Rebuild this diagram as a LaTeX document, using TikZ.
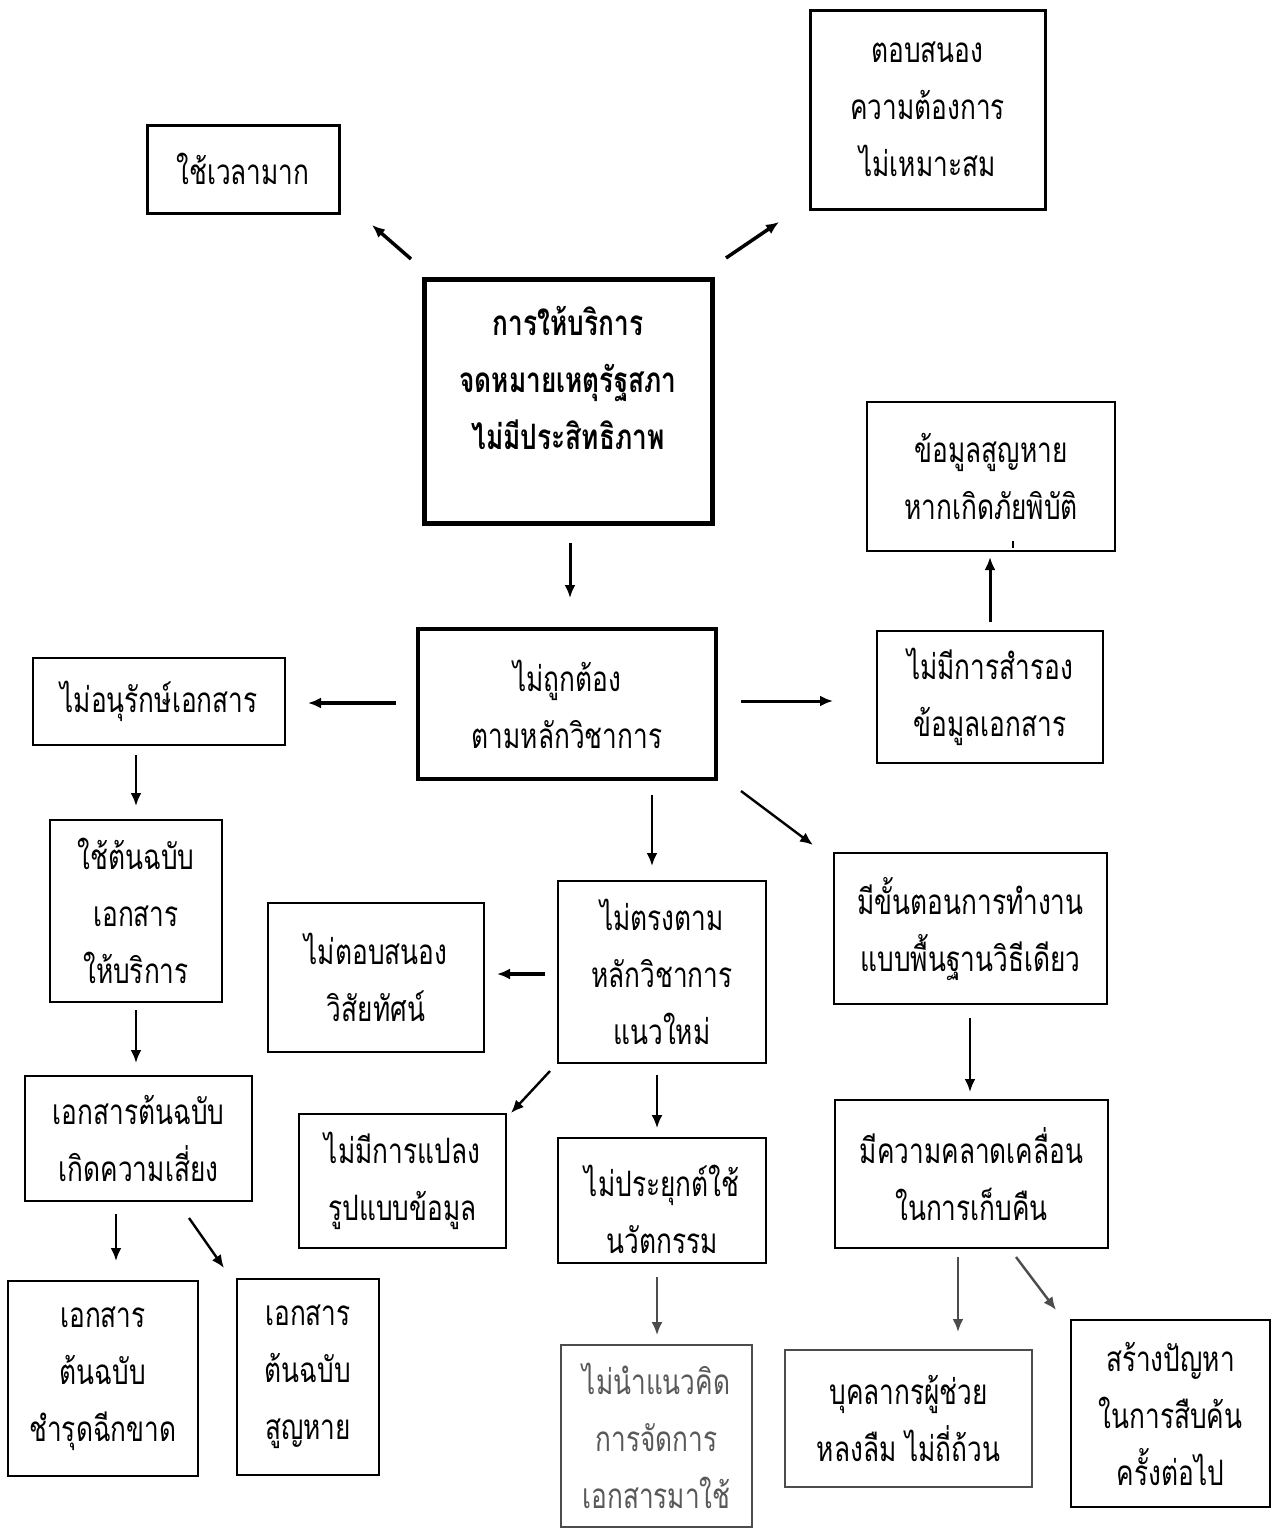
\documentclass[tikz,border=0pt]{standalone}
\usepackage{fontspec}
\newfontfamily\thai[Script=Thai,FakeStretch=0.75]{Loma}
\usetikzlibrary{arrows.meta}
\definecolor{fadetext}{gray}{0.35}
\definecolor{fadeline}{gray}{0.3}
\tikzset{
  box/.style={draw=black, line width=2.2pt, inner sep=0pt, align=center,
    font=\thai\fontsize{35}{57}\selectfont},
  arr/.style={line width=2.4pt, -{Latex[length=13pt,width=11pt]}},
  garr/.style={arr, draw=fadeline, color=fadeline},
}
\begin{document}
\begin{tikzpicture}[x=1pt,y=-1pt]
\useasboundingbox (0,0) rectangle (1273,1531);
\fill[white] (0,0) rectangle (1273,1531);

% boxes
\node[box, line width=3pt, minimum width=192pt, minimum height=88pt] (b1) at (243,169) {ใช้เวลามาก};
\node[box, line width=3pt, minimum width=235pt, minimum height=199pt] (b2) at (927.5,109.5) {ตอบสนอง\\ความต้องการ\\ไม่เหมาะสม};
\node[box, line width=5pt, minimum width=288pt, minimum height=244pt, text depth=46pt,
  font=\thai\bfseries\fontsize{35}{57}\selectfont] (c) at (568,401) {การให้บริการ\\จดหมายเหตุรัฐสภา\\ไม่มีประสิทธิภาพ};
\node[box, minimum width=248pt, minimum height=149pt] (b4) at (991,476.5) {ข้อมูลสูญหาย\\หากเกิดภัยพิบัติ};
\node[box, line width=4pt, minimum width=298pt, minimum height=150pt] (m) at (567,704) {ไม่ถูกต้อง\\ตามหลักวิชาการ};
\node[box, line width=2.5pt, minimum width=226pt, minimum height=132pt] (b6) at (990,697) {ไม่มีการสำรอง\\ข้อมูลเอกสาร};
\node[box, line width=2.5pt, minimum width=252pt, minimum height=87pt] (b7) at (159,701.5) {ไม่อนุรักษ์เอกสาร};
\node[box, minimum width=172pt, minimum height=182pt] (b8) at (136,911) {ใช้ต้นฉบับ\\เอกสาร\\ให้บริการ};
\node[box, line width=2.5pt, minimum width=216pt, minimum height=149pt] (b9) at (376,977.5) {ไม่ตอบสนอง\\วิสัยทัศน์};
\node[box, minimum width=208pt, minimum height=182pt] (b10) at (662,972) {ไม่ตรงตาม\\หลักวิชาการ\\แนวใหม่};
\node[box, line width=2.5pt, minimum width=273pt, minimum height=151pt] (b11) at (970.5,928.5) {มีขั้นตอนการทำงาน\\แบบพื้นฐานวิธีเดียว};
\node[box, line width=2.5pt, minimum width=227pt, minimum height=125pt] (b12) at (138.5,1138.5) {เอกสารต้นฉบับ\\เกิดความเสี่ยง};
\node[box, minimum width=207pt, minimum height=134pt] (b13) at (402.5,1181) {ไม่มีการแปลง\\รูปแบบข้อมูล};
\node[box, minimum width=208pt, minimum height=125pt] (b14) at (662,1200.5) {\rule{0pt}{50pt}ไม่ประยุกต์ใช้\\นวัตกรรม};
\node[box, line width=2.5pt, minimum width=273pt, minimum height=148pt] (b15) at (971.5,1174) {มีความคลาดเคลื่อน\\ในการเก็บคืน};
\node[box, line width=2.5pt, minimum width=190pt, minimum height=195pt] (b16) at (103,1378.5) {เอกสาร\\ต้นฉบับ\\ชำรุดฉีกขาด};
\node[box, line width=2.5pt, minimum width=142pt, minimum height=196pt] (b17) at (308,1377) {เอกสาร\\ต้นฉบับ\\สูญหาย};
\node[box, draw=fadeline, text=fadetext, minimum width=191pt, minimum height=182pt] (b18) at (656.5,1436) {ไม่นำแนวคิด\\การจัดการ\\เอกสารมาใช้};
\node[box, draw=fadeline, minimum width=247pt, minimum height=137pt] (b19) at (908.5,1418.5) {บุคลากรผู้ช่วย\\หลงลืม ไม่ถี่ถ้วน};
\node[box, minimum width=199pt, minimum height=187pt] (b20) at (1170.5,1413.5) {สร้างปัญหา\\ในการสืบค้น\\ครั้งต่อไป};
\fill (1012,541) rectangle (1014,548);

% arrow end points
\coordinate (a1s) at (411,259);  \coordinate (a1e) at (372,225);
\coordinate (a2s) at (726,258);  \coordinate (a2e) at (779,222);
\coordinate (a3s) at (570,543);  \coordinate (a3e) at (570,598);
\coordinate (a4s) at (396,703);  \coordinate (a4e) at (308,703);
\coordinate (a5s) at (741,701);  \coordinate (a5e) at (833,701);
\coordinate (a6s) at (990,622);  \coordinate (a6e) at (990,557);
\coordinate (a7s) at (652,795);  \coordinate (a7e) at (652,866);
\coordinate (a8s) at (741,791);  \coordinate (a8e) at (813,845);
\coordinate (a9s) at (136,755);  \coordinate (a9e) at (136,806);
\coordinate (a10s) at (136,1010); \coordinate (a10e) at (136,1063);
\coordinate (a11s) at (545,974);  \coordinate (a11e) at (497,974);
\coordinate (a12s) at (550,1071); \coordinate (a12e) at (511,1113);
\coordinate (a13s) at (657,1075); \coordinate (a13e) at (657,1128);
\coordinate (a14s) at (657,1277); \coordinate (a14e) at (657,1335);
\coordinate (a15s) at (970,1018); \coordinate (a15e) at (970,1092);
\coordinate (a16s) at (958,1257); \coordinate (a16e) at (958,1332);
\coordinate (a17s) at (1016,1257); \coordinate (a17e) at (1056,1310);
\coordinate (a18s) at (116,1214); \coordinate (a18e) at (116,1261);
\coordinate (a19s) at (189,1218); \coordinate (a19e) at (224,1268);

\draw[arr, line width=3.5pt] (a1s) -- (a1e);
\draw[arr, line width=3.5pt] (a2s) -- (a2e);
\draw[arr, line width=3pt] (a3s) -- (a3e);
\draw[arr, line width=4pt] (a4s) -- (a4e);
\draw[arr, line width=3pt] (a5s) -- (a5e);
\draw[arr, line width=3pt] (a6s) -- (a6e);
\draw[arr] (a7s) -- (a7e);
\draw[arr] (a8s) -- (a8e);
\draw[arr] (a9s) -- (a9e);
\draw[arr] (a10s) -- (a10e);
\draw[arr, line width=4pt] (a11s) -- (a11e);
\draw[arr] (a12s) -- (a12e);
\draw[arr, line width=2pt] (a13s) -- (a13e);
\draw[garr, line width=2pt] (a14s) -- (a14e);
\draw[arr] (a15s) -- (a15e);
\draw[garr] (a16s) -- (a16e);
\draw[garr] (a17s) -- (a17e);
\draw[arr] (a18s) -- (a18e);
\draw[arr] (a19s) -- (a19e);
\end{tikzpicture}
\end{document}
